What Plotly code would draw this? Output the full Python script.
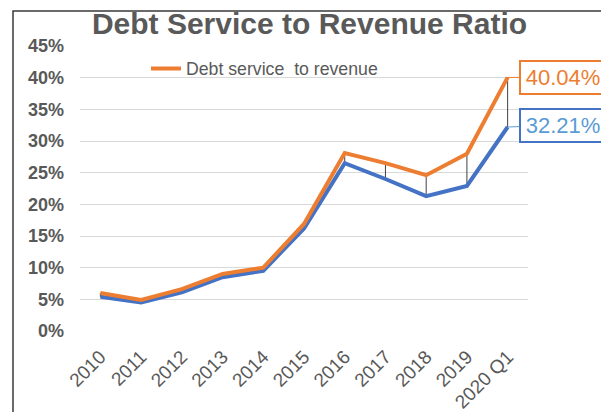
import plotly.graph_objects as go

categories = ["2010", "2011", "2012", "2013", "2014", "2015", "2016", "2017", "2018", "2019", "2020 Q1"]
debt_service_to_revenue = [6.0, 4.9, 6.6, 9.0, 10.0, 16.9, 28.1, 26.5, 24.6, 28.0, 40.04]
second_series = [5.4, 4.5, 6.1, 8.5, 9.5, 16.2, 26.5, 24.0, 21.3, 22.9, 32.21]
y_ticks = [0, 5, 10, 15, 20, 25, 30, 35, 40, 45]
y_tick_labels = [f"{v}%" for v in y_ticks]

ORANGE = "#ED7D31"
BLUE = "#4472C4"
LIGHTBLUE = "#5B9BD5"
GREY = "#595959"
FONT = "Liberation Sans, Arial, sans-serif"

# high-low lines
hl_x, hl_y = [], []
for c, a, b in zip(categories, debt_service_to_revenue, second_series):
    hl_x += [c, c, None]
    hl_y += [a, b, None]

fig = go.Figure()
fig.add_trace(go.Scatter(x=hl_x, y=hl_y, mode="lines",
                         line=dict(color="#404040", width=1),
                         showlegend=False, hoverinfo="skip"))
fig.add_trace(go.Scatter(x=categories, y=second_series, mode="lines",
                         line=dict(color=BLUE, width=4),
                         name="Debt service (alt)", showlegend=False))
fig.add_trace(go.Scatter(x=categories, y=debt_service_to_revenue, mode="lines",
                         line=dict(color=ORANGE, width=4),
                         name="Debt service  to revenue"))

W, H = 609, 412
OFF = 8  # page body offset
# plot area in screen pixels: x 80..528, y 46..331
L = 80 - OFF
T = 46 - OFF
R = W - (528 - OFF)
B = H - (331 - OFF)
pw, ph = W - L - R, H - T - B

def px_x(p):  # screen px -> paper
    return (p - OFF - L) / pw

def px_y(p):
    return (H - B - (p - OFF)) / ph

fig.update_layout(
    width=W, height=H,
    margin=dict(l=L, r=R, t=T, b=B, autoexpand=False),
    paper_bgcolor="white", plot_bgcolor="white",
    font=dict(family=FONT, color=GREY),
    title=dict(text="<b>Debt Service to Revenue Ratio</b>",
               font=dict(size=30, color=GREY, family=FONT),
               x=(309.5 - OFF) / W, xref="container", xanchor="center",
               y=1 - (23 - OFF) / H, yref="container", yanchor="middle"),
    showlegend=True,
    legend=dict(x=px_x(146), y=px_y(69), xanchor="left", yanchor="middle",
                orientation="h", bgcolor="rgba(0,0,0,0)",
                font=dict(size=17.7, color=GREY, family=FONT)),
    xaxis=dict(type="category", categoryorder="array", categoryarray=categories,
               range=[-0.5, len(categories) - 0.5], automargin=False,
               showgrid=False, showline=False, zeroline=False, ticks="",
               tickangle=-45, ticklabelstandoff=10,
               tickfont=dict(size=19, color=GREY, family=FONT)),
    yaxis=dict(range=[0, 45], tickvals=y_ticks, ticktext=y_tick_labels,
               automargin=False,
               showgrid=True, gridcolor="#D9D9D9", gridwidth=1,
               zeroline=False, showline=False, ticks="", ticklabelstandoff=15,
               tickfont=dict(size=18, color=GREY, family=FONT, weight="bold")),
    shapes=[dict(type="rect", xref="paper", yref="paper",
                 x0=px_x(13), x1=px_x(604), y0=px_y(440), y1=px_y(11),
                 line=dict(color="#3A3A3A", width=1.5), fillcolor="rgba(0,0,0,0)",
                 layer="above")],
    annotations=[
        dict(x=categories[-1], y=debt_service_to_revenue[-1], xref="x", yref="y",
             text=f"{debt_service_to_revenue[-1]:.2f}%", showarrow=True,
             arrowhead=0, arrowwidth=1, arrowcolor=ORANGE, ax=55, ay=0,
             font=dict(size=22, color=ORANGE, family=FONT),
             bordercolor=ORANGE, borderwidth=2, borderpad=1,
             bgcolor="white", width=82, height=29),
        dict(x=categories[-1], y=second_series[-1], xref="x", yref="y",
             text=f"{second_series[-1]:.2f}%", showarrow=True,
             arrowhead=0, arrowwidth=1, arrowcolor=LIGHTBLUE, ax=55, ay=-2,
             font=dict(size=22, color=LIGHTBLUE, family=FONT),
             bordercolor=BLUE, borderwidth=2, borderpad=1,
             bgcolor="white", width=82, height=29),
    ],
)

fig.write_html("out.html")
